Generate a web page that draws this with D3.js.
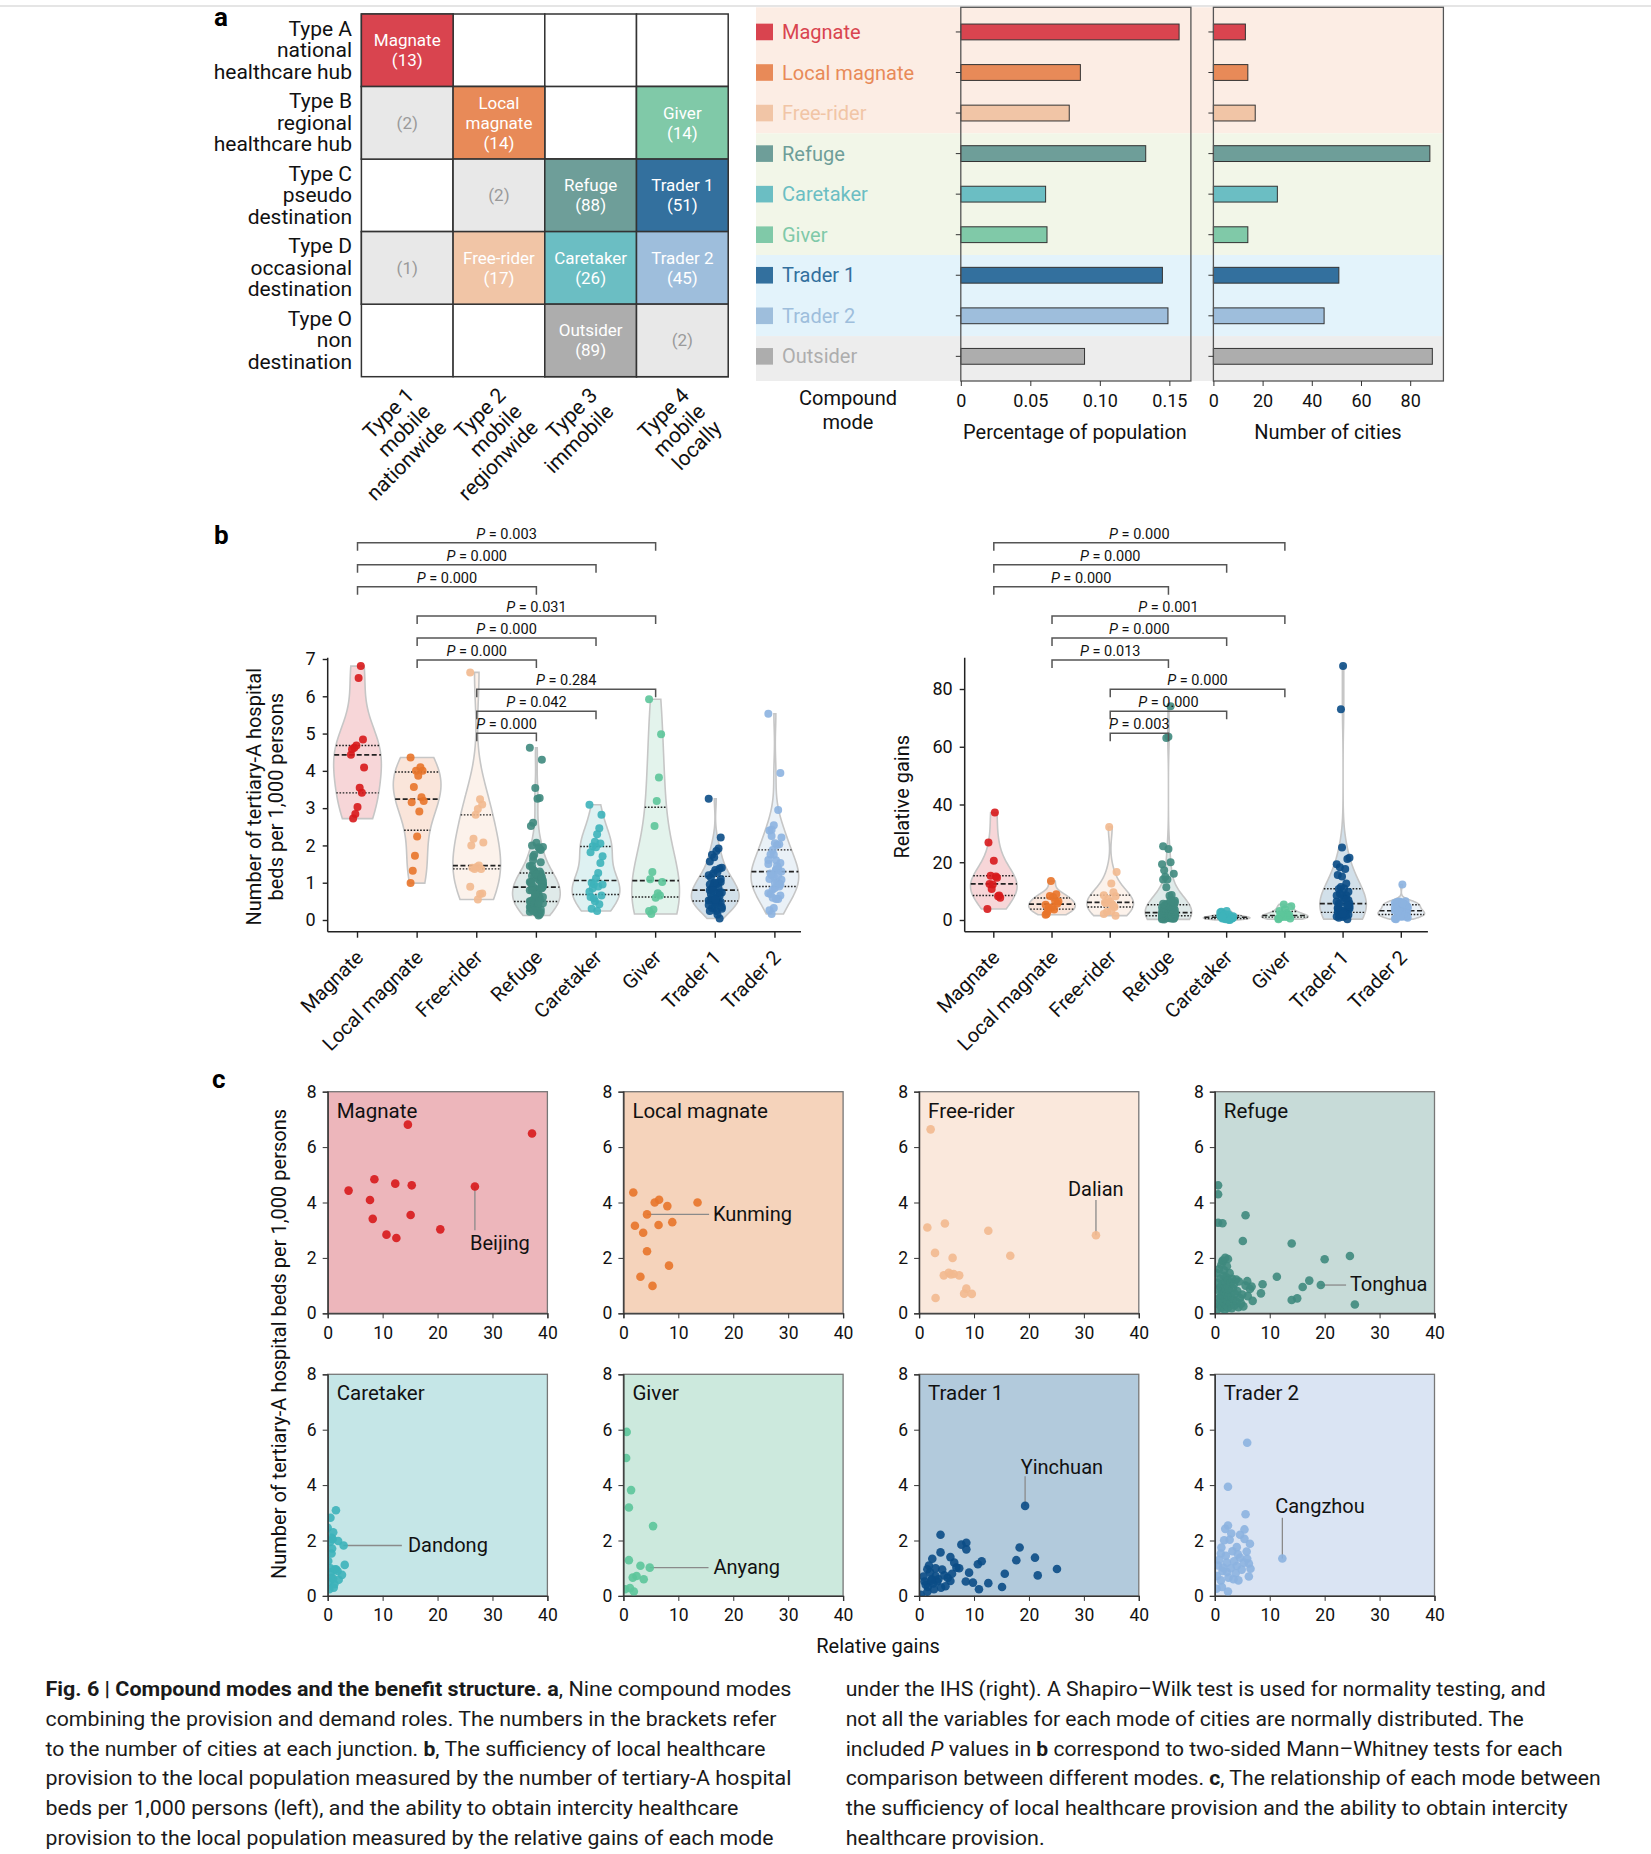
<!DOCTYPE html>
<html>
<head>
<meta charset="utf-8">
<script src="https://cdn.jsdelivr.net/npm/d3@7"></script>
<style>
body{margin:0;background:#fff;}
text{font-family:Roboto, sans-serif;}
</style>
</head>
<body>
<svg id="fig" width="1651" height="1854"></svg>
<script>
// ---- data ----
const modes = ["Magnate","Local magnate","Free-rider","Refuge","Caretaker","Giver","Trader 1","Trader 2","Outsider"];
const modeColors = ["#d9444f","#e88a58","#f1c5a6","#6e9e99","#6bbec3","#80c9a8","#33709e","#9ebedc","#adadad"];
const dotColors = ["#d7191c","#e8742a","#f2b98f","#3f8a7e","#3db3ba","#5cc59a","#0b4c86","#8cb2e0"];
const panelBg = ["#edb6bb","#f5d3bb","#fae8dc","#c7dbd8","#c5e6e7","#cce9dd","#b2cadc","#dae4f3"];

const shareOfPopulation = [0.157,0.086,0.078,0.133,0.061,0.062,0.145,0.149,0.089];
const numberOfCities = [13,14,17,88,26,14,51,45,89];

const demandTypes = [["Type A","national","healthcare hub"],["Type B","regional","healthcare hub"],["Type C","pseudo","destination"],["Type D","occasional","destination"],["Type O","non","destination"]];
const provisionTypes = [["Type 1","mobile","nationwide"],["Type 2","mobile","regionwide"],["Type 3","immobile"],["Type 4","mobile","locally"]];
const junctionRow = [0,1,1,1,2,2,2,3,3,3,3,4,4];
const junctionCol = [0,0,1,3,1,2,3,0,1,2,3,2,3];
const junctionMode = ["Magnate",null,"Local magnate","Giver",null,"Refuge","Trader 1",null,"Free-rider","Caretaker","Trader 2","Outsider",null];
const junctionCount = [13,2,14,14,2,88,51,1,17,26,45,89,2];

// [relative gains, tertiary-A beds per 1,000 persons] per city
const magnatePts = [[3.8,4.43],[8.5,4.84],[14.6,6.81],[37.2,6.49],[12.3,4.68],[15.3,4.62],[26.8,4.58],[7.7,4.09],[8.2,3.41],[15.1,3.55],[20.5,3.03],[10.7,2.84],[12.5,2.72]];
const localMagnatePts = [[1.8,4.36],[5.7,4.0],[6.5,4.1],[8.0,3.87],[13.5,4.0],[4.3,3.57],[2.1,3.16],[6.4,3.19],[8.9,3.29],[3.6,2.91],[4.3,2.24],[8.3,1.72],[3.1,1.32],[5.3,0.99]];
const freeRiderPts = [[2.1,6.64],[1.5,3.10],[4.7,3.24],[12.6,2.98],[32.2,2.82],[2.9,2.18],[6.1,2.0],[16.6,2.08],[4.5,1.37],[5.4,1.46],[6.3,1.42],[7.3,1.37],[5.8,1.40],[8.6,0.89],[8.2,0.71],[9.6,0.70],[3.0,0.55]];
const refugePts = [[0.6,4.62],[0.6,4.30],[0.6,3.27],[1.4,3.25],[5.6,3.54],[5.1,2.61],[14.0,2.52],[2.4,1.96],[1.5,1.88],[20.0,1.95],[24.6,2.07],[11.3,1.32],[17.2,1.18],[19.3,1.02],[16.0,0.95],[8.7,1.05],[8.4,0.72],[14.0,0.48],[15.0,0.54],[25.5,0.32],[6.7,0.97],[5.9,1.16],[74,0.6],[63.5,0.8],[63,0.4],
  [0.2,0.35],[0.3,1.45],[0.4,0.85],[0.5,0.15],[0.6,1.1],[0.7,0.55],[0.8,1.6],[0.9,0.3],[1.0,0.95],[1.0,1.25],[1.1,0.6],[1.2,0.2],[1.2,1.75],[1.3,0.45],[1.3,0.8],[1.4,1.05],[1.4,1.9],[1.45,0.25],[1.5,0.65],[1.6,1.35],[1.6,0.4],[1.7,0.9],[1.7,1.55],[1.8,0.12],[1.8,0.75],[1.9,1.15],[1.9,2.0],[2.0,0.5],[2.0,0.88],[2.1,1.3],[2.1,0.3],[2.2,0.7],[2.2,1.7],[2.3,1.0],[2.3,0.45],[2.4,0.2],[2.4,1.2],[2.45,0.62],[2.6,0.85],[2.7,1.45],[2.8,0.35],[2.9,1.1],[3.0,0.6],[3.1,0.18],[3.2,1.25],[3.3,0.9],[3.4,0.5],[3.5,1.05],[3.6,0.28],[3.7,0.7],[3.9,1.22],[4.0,0.42],[4.1,0.8],[4.3,0.22],[4.4,1.15],[4.6,0.55],[4.8,0.35],[5.0,0.68],[5.2,0.25],[5.6,1.0],[6.0,0.62],[6.4,0.88],[6.9,0.45]];
const caretakerPts = [[1.5,3.09],[0.5,2.82],[0,2.46],[1.0,2.30],[0.7,2.1],[1.9,1.98],[2.9,1.82],[0.8,1.71],[0.7,1.53],[0.1,1.26],[3.1,1.12],[1.5,0.96],[0.5,1.0],[2.6,0.76],[0.7,0.66],[1.2,0.42],[0.3,0.24],[0.3,0.5],[0.6,0.85],[1.0,0.62],[1.3,0.95],[0.9,2.05],[1.8,0.9],[0.4,1.95],[2.0,0.58],[1.1,0.3]];
const giverPts = [[0.6,5.92],[0.5,4.98],[1.4,3.82],[1.0,3.19],[5.4,2.52],[1.0,1.29],[3.1,1.09],[4.8,1.02],[1.7,0.66],[2.4,0.72],[3.7,0.60],[1.2,0.28],[1.9,0.16],[0.3,0.24]];
const trader1Pts = [[19.3,3.25],[3.9,2.21],[8.6,1.92],[7.7,1.85],[8.6,1.68],[18.3,1.75],[3.9,1.57],[5.7,1.40],[21.1,1.38],[17.7,1.29],[2.4,1.34],[11.4,1.25],[10.7,1.14],[6.4,1.20],[6.8,1.02],[7.3,1.0],[1.5,0.96],[25.1,0.97],[9.1,0.84],[15.6,0.80],[21.6,0.74],[4.6,0.74],[3.0,0.72],[1.0,0.52],[3.3,0.52],[5.7,0.54],[8.5,0.52],[9.8,0.48],[12.6,0.46],[10.9,0.24],[15.1,0.32],[1.6,0.32],[2.7,0.24],[4.0,0.30],[0.3,0.04],[2.3,0.6],[88,0.5],[73,0.9],
  [0.8,0.7],[1.2,0.4],[1.8,1.1],[2.0,0.85],[2.6,0.45],[3.0,1.0],[3.5,0.6],[4.2,0.95],[4.8,0.35],[5.2,0.65],[1.5,0.15],[2.2,0.55],[6.0,0.8]];
const trader2Pts = [[5.9,5.53],[2.4,3.94],[5.6,2.95],[12.3,1.35],[2.4,2.54],[1.9,2.42],[5.4,2.40],[4.6,2.21],[2.7,2.03],[1.7,2.01],[5.4,2.06],[6.4,1.88],[4.0,1.76],[3.2,1.61],[1.1,1.53],[4.6,1.38],[5.9,1.34],[6.2,1.17],[2.2,1.2],[0.6,1.10],[4.0,1.08],[6.5,0.98],[1.5,1.02],[2.2,0.86],[3.8,0.82],[6.2,0.70],[0.4,0.72],[2.5,0.66],[4.3,0.56],[1.1,0.56],[1.3,0.32],[2.4,0.16],[0.3,0.26],
  [0.8,1.3],[1.4,0.9],[2.0,1.45],[2.9,1.0],[3.4,0.6],[3.5,1.25],[4.2,1.5],[4.9,0.95],[5.3,1.2],[5.8,1.6],[1.2,1.75],[3.0,2.25]];
const modePoints = [magnatePts,localMagnatePts,freeRiderPts,refugePts,caretakerPts,giverPts,trader1Pts,trader2Pts];

const comparisons = [["Magnate","Giver"],["Magnate","Caretaker"],["Magnate","Refuge"],["Local magnate","Giver"],["Local magnate","Caretaker"],["Local magnate","Refuge"],["Free-rider","Giver"],["Free-rider","Caretaker"],["Free-rider","Refuge"]];
const pBeds = ["0.003","0.000","0.000","0.031","0.000","0.000","0.284","0.042","0.000"];
const pGains = ["0.000","0.000","0.000","0.001","0.000","0.013","0.000","0.000","0.003"];

// labelled cities in c: mode index, city, point
const cityMode = [0,1,2,3,4,5,6,7];
const cityName = ["Beijing","Kunming","Dalian","Tonghua","Dandong","Anyang","Yinchuan","Cangzhou"];
const cityPoint = [[26.8,4.58],[4.3,3.57],[32.2,2.82],[19.3,1.02],[2.9,1.82],[4.8,1.02],[19.3,3.25],[12.3,1.35]];

// ---- layout helpers (not data) ----
const leaderEnd = [[26.8,3.0],[15.6,3.57],[32.2,4.09],[23.9,1.02],[13.5,1.82],[15.5,1.02],[19.3,4.32],[12.3,2.82]];
const labelAt = [[25.9,2.55],[16.3,3.6],[27.1,4.5],[24.6,1.05],[14.6,1.85],[16.4,1.05],[18.5,4.65],[11.0,3.26]];

const svg = d3.select("#fig");
const sansB = "'Liberation Sans', Arial, sans-serif";

svg.append("line").attr("x1",0).attr("x2",1651).attr("y1",6).attr("y2",6).attr("stroke","#dcdcdc").attr("stroke-width",1.5);

function panelLetter(t, x, y){
  svg.append("text").attr("x",x).attr("y",y).attr("font-family",sansB).attr("font-weight","bold")
    .attr("font-size",26).attr("fill","#000").text(t);
}
panelLetter("a",214,26);
panelLetter("b",214,544);
panelLetter("c",212,1088);

// ================= panel a : junction matrix =================
const colX = d3.scaleBand().domain(d3.range(4)).range([361.4,728.2]);
const rowY = d3.scaleBand().domain(d3.range(5)).range([14,376.7]);
const gM = svg.append("g");

gM.selectAll(".blank").data(d3.cross(d3.range(5),d3.range(4))).join("rect")
  .attr("x",d=>colX(d[1])).attr("y",d=>rowY(d[0]))
  .attr("width",colX.bandwidth()).attr("height",rowY.bandwidth())
  .attr("fill","#fff").attr("stroke","#333").attr("stroke-width",1.5);

const junctions = junctionRow.map((r,i)=>({r, c:junctionCol[i], mode:junctionMode[i], n:junctionCount[i]}));
gM.selectAll(".cell").data(junctions).join("rect")
  .attr("x",d=>colX(d.c)).attr("y",d=>rowY(d.r))
  .attr("width",colX.bandwidth()).attr("height",rowY.bandwidth())
  .attr("fill",d=>d.mode ? modeColors[modes.indexOf(d.mode)] : "#e8e8e8")
  .attr("stroke","#333").attr("stroke-width",1.5);

junctions.forEach(d=>{
  const lines = (d.mode ? (d.mode==="Local magnate" ? ["Local","magnate"] : [d.mode]) : []).concat([`(${d.n})`]);
  const cx = colX(d.c)+colX.bandwidth()/2, cy = rowY(d.r)+rowY.bandwidth()/2;
  lines.forEach((l,j)=>{
    gM.append("text").attr("x",cx).attr("y",cy+(j-(lines.length-1)/2)*20)
      .attr("text-anchor","middle").attr("dominant-baseline","central")
      .attr("font-size",17).attr("fill",d.mode ? "#fff" : "#9a9a9a").text(l);
  });
});

demandTypes.forEach((lines,i)=>{
  const cy = rowY(i)+rowY.bandwidth()/2;
  lines.forEach((l,j)=>{
    gM.append("text").attr("x",352).attr("y",cy+(j-(lines.length-1)/2)*21.5)
      .attr("text-anchor","end").attr("dominant-baseline","central")
      .attr("font-size",21).attr("fill","#111").text(l);
  });
});

provisionTypes.forEach((lines,i)=>{
  const t = gM.append("text")
    .attr("transform",`translate(${colX(i)+colX.bandwidth()/2+8},${376.7+20}) rotate(-45)`)
    .attr("text-anchor","end").attr("font-size",21).attr("fill","#111");
  lines.forEach((l,j)=>t.append("tspan").attr("x",0).attr("dy",j?23:0).text(l));
});

// ================= panel a : share and count bars =================
const barY = d3.scaleBand().domain(modes).range([7.3,381]).paddingInner(0.61).paddingOuter(0.413);
const bc = m => barY(m)+barY.bandwidth()/2;
const edge = i => i===0 ? 7.3 : i===modes.length ? 381 : (bc(modes[i-1])+bc(modes[i]))/2;
const bandGroups = [[0,2,"#fcede4"],[3,5,"#f2f6e8"],[6,7,"#e3f3fb"],[8,8,"#ededed"]];
const gB = svg.append("g");
bandGroups.forEach(([a,b,col])=>{
  gB.append("rect").attr("x",756).attr("y",edge(a)).attr("width",1442.5-756)
    .attr("height",edge(b+1)-edge(a)).attr("fill",col);
});

modes.forEach((m,i)=>{
  gB.append("rect").attr("x",756).attr("y",bc(m)-8.3).attr("width",17).attr("height",16.6).attr("fill",modeColors[i]);
  gB.append("text").attr("x",782).attr("y",bc(m)).attr("dominant-baseline","central")
    .attr("font-size",20).attr("fill",modeColors[i]).text(m);
});

const xShare = d3.scaleLinear().domain([0,0.1655]).range([960.8,1190.9]);
const xCount = d3.scaleLinear().domain([0,93.5]).range([1213.4,1443.4]);

function barChart(x, values, ticks, fmt){
  const g = gB.append("g");
  g.selectAll("rect.bar").data(modes).join("rect").attr("class","bar")
    .attr("x",x(0)).attr("y",m=>barY(m))
    .attr("width",(m,i)=>x(values[i])-x(0)).attr("height",barY.bandwidth())
    .attr("fill",(m,i)=>modeColors[i]).attr("stroke","#333").attr("stroke-width",1);
  g.append("rect").attr("x",x.range()[0]).attr("y",7.3).attr("width",x.range()[1]-x.range()[0])
    .attr("height",381-7.3).attr("fill","none").attr("stroke","#555").attr("stroke-width",1.3);
  g.selectAll("line.yt").data(modes).join("line").attr("class","yt")
    .attr("x1",x.range()[0]-5).attr("x2",x.range()[0]).attr("y1",bc).attr("y2",bc)
    .attr("stroke","#333");
  const ax = g.append("g").attr("transform","translate(0,381)")
    .call(d3.axisBottom(x).tickValues(ticks).tickFormat(fmt).tickSize(5).tickPadding(8));
  ax.select(".domain").remove();
  ax.selectAll("text").attr("font-size",18).attr("font-family","Roboto, sans-serif").attr("fill","#111");
  ax.selectAll("line").attr("stroke","#333");
}
barChart(xShare, shareOfPopulation, [0,0.05,0.10,0.15], d=>d===0?"0":d3.format(".2f")(d));
barChart(xCount, numberOfCities, [0,20,40,60,80], d3.format("d"));

[["Compound",848,398],["mode",848,422],["Percentage of population",1075,432],["Number of cities",1328,432]]
  .forEach(([t,x,y])=>gB.append("text").attr("x",x).attr("y",y).attr("text-anchor","middle")
    .attr("dominant-baseline","central").attr("font-size",20).attr("fill","#111").text(t));

// ================= panel b : violins =================
function kde(vals){
  const n = vals.length, sd = d3.deviation(vals), bw = sd*Math.pow(n,-0.2);
  const lo = d3.min(vals), hi = d3.max(vals);
  const f = y => d3.sum(vals, v=>Math.exp(-0.5*((y-v)/bw)**2));
  const grid = d3.range(101).map(i=>lo+(hi-lo)*i/100);
  const mx = d3.max(grid, f);
  return {grid, at: y=>f(y)/mx};
}
const jit = i => (((i*37)%13)-6)/6;
const violinModes = modes.slice(0,8);

function violinPanel(o){
  const g = svg.append("g").attr("font-family",sansB);
  const x = d3.scaleBand().domain(violinModes).range(o.xr);
  const step = x.bandwidth(), cx = m => x(m)+step/2, half = step*0.4;
  const y = o.y;

  violinModes.forEach((m,i)=>{
    const vals = modePoints[i].map(p=>p[o.k]);
    const k = kde(vals);
    const area = d3.area().curve(d3.curveBasis)
      .y(v=>y(v)).x0(v=>cx(m)-k.at(v)*half).x1(v=>cx(m)+k.at(v)*half);
    g.append("path").attr("d",area(k.grid))
      .attr("fill",d3.interpolateRgb("#fff",modeColors[i])(0.22))
      .attr("stroke","#c6c6c6").attr("stroke-width",1.6);
    const sorted = vals.slice().sort(d3.ascending);
    [0.25,0.5,0.75].forEach(q=>{
      const v = d3.quantile(sorted,q), w = k.at(v)*half;
      g.append("line").attr("x1",cx(m)-w).attr("x2",cx(m)+w).attr("y1",y(v)).attr("y2",y(v))
        .attr("stroke","#222").attr("stroke-width",q===0.5?1.7:1.4)
        .attr("stroke-dasharray",q===0.5?"5,2.5":"1.6,1.6");
    });
    g.selectAll(null).data(modePoints[i]).join("circle")
      .attr("cx",(p,j)=>cx(m)+jit(j)*step*0.11).attr("cy",p=>y(p[o.k])).attr("r",4)
      .attr("fill",dotColors[i]).attr("fill-opacity",0.9);
  });

  // axes
  const yAx = g.append("g").attr("transform",`translate(${o.xr[0]},0)`)
    .call(d3.axisLeft(y).tickValues(o.ticks).tickFormat(d3.format("d")).tickSize(5).tickPadding(7));
  yAx.select(".domain").remove();
  yAx.selectAll("text").attr("font-size",18).attr("font-family",sansB).attr("fill","#111");
  g.append("line").attr("x1",o.xr[0]).attr("x2",o.xr[0]).attr("y1",657.7).attr("y2",931.7).attr("stroke","#222").attr("stroke-width",1.5);
  g.append("line").attr("x1",o.xr[0]).attr("x2",o.xEnd).attr("y1",931.7).attr("y2",931.7).attr("stroke","#222").attr("stroke-width",1.5);
  const xAx = g.append("g").attr("transform","translate(0,931.7)")
    .call(d3.axisBottom(x).tickSize(6));
  xAx.select(".domain").remove();
  xAx.selectAll("line").attr("stroke","#222").attr("stroke-width",1.4);
  xAx.selectAll("text").attr("x",0).attr("y",0).attr("dy",0)
    .attr("transform","translate(7,27) rotate(-45)").style("text-anchor","end")
    .attr("font-size",20).attr("font-family",sansB).attr("fill","#111");
  yAx.selectAll("line").attr("stroke","#222").attr("stroke-width",1.4);

  // title
  const t = g.append("text").attr("transform","rotate(-90)").attr("text-anchor","middle")
    .attr("font-size",20).attr("fill","#111");
  o.title.forEach((l,j)=>t.append("tspan").attr("x",-796.7).attr("y",o.titleX[j]).text(l));

  // comparison brackets
  comparisons.forEach(([a,b],kk)=>{
    const by = 542.7 + Math.floor(kk/3)*73.3 + (kk%3)*22;
    g.append("path").attr("d",`M${cx(a)},${by+8}V${by}H${cx(b)}V${by+8}`)
      .attr("fill","none").attr("stroke","#555").attr("stroke-width",1.5);
    const lt = g.append("text").attr("x",(cx(a)+cx(b))/2).attr("y",by-4)
      .attr("text-anchor","middle").attr("font-size",14.5).attr("font-family","Roboto, sans-serif").attr("fill","#111");
    lt.append("tspan").attr("font-style","italic").text("P");
    lt.append("tspan").text(" = "+o.p[kk]);
  });
}

violinPanel({k:1, xr:[327.7,804.7], xEnd:801, y:d3.scaleLinear().domain([0,7]).range([920,659]),
  ticks:d3.range(8), title:["Number of tertiary-A hospital","beds per 1,000 persons"], titleX:[261,283], p:pBeds});
violinPanel({k:0, xr:[964.7,1430.4], xEnd:1427.9, y:d3.scaleLinear().domain([0,80]).range([920,689]),
  ticks:[0,20,40,60,80], title:["Relative gains"], titleX:[909], p:pGains});

// ================= panel c : scatter grid =================
const cW = 219.7, cH = 221.6;
violinModes.forEach((m,i)=>{
  const x0 = 327.7 + (i%4)*295.7, y0 = 1091.7 + Math.floor(i/4)*282.6;
  const x = d3.scaleLinear().domain([0,40]).range([x0,x0+cW]);
  const y = d3.scaleLinear().domain([0,8]).range([y0+cH,y0]);
  const g = svg.append("g");
  g.append("rect").attr("x",x0).attr("y",y0).attr("width",cW).attr("height",cH)
    .attr("fill",panelBg[i]).attr("stroke","#777").attr("stroke-width",1.3);
  g.append("clipPath").attr("id","clip"+i).append("rect").attr("x",x0).attr("y",y0).attr("width",cW).attr("height",cH);
  const ci = cityMode.indexOf(i);
  if(ci>=0){
    g.append("line").attr("x1",x(cityPoint[ci][0])).attr("y1",y(cityPoint[ci][1]))
      .attr("x2",x(leaderEnd[ci][0])).attr("y2",y(leaderEnd[ci][1]))
      .attr("stroke","#8a8a8a").attr("stroke-width",1.3);
  }
  g.append("g").attr("clip-path",`url(#clip${i})`).selectAll("circle").data(modePoints[i]).join("circle")
    .attr("cx",p=>x(p[0])).attr("cy",p=>y(p[1])).attr("r",4.3)
    .attr("fill",dotColors[i]).attr("fill-opacity",0.9);
  if(ci>=0){
    g.append("text").attr("x",x(labelAt[ci][0])).attr("y",y(labelAt[ci][1]))
      .attr("dominant-baseline","central").attr("font-size",20).attr("fill","#111").text(cityName[ci]);
  }
  g.append("text").attr("x",x0+9).attr("y",y0+19).attr("dominant-baseline","central")
    .attr("font-size",20.5).attr("fill","#111").text(m);
  const ax = g.append("g").attr("transform",`translate(${x0},0)`)
    .call(d3.axisLeft(y).tickValues([0,2,4,6,8]).tickSize(5).tickPadding(6));
  const bx = g.append("g").attr("transform",`translate(0,${y0+cH})`)
    .call(d3.axisBottom(x).tickValues([0,10,20,30,40]).tickSize(5).tickPadding(8));
  [ax,bx].forEach(a=>{
    a.select(".domain").attr("stroke","#333").attr("stroke-width",1.3);
    a.selectAll("line").attr("stroke","#333");
    a.selectAll("text").attr("font-size",17.5).attr("font-family","Roboto, sans-serif").attr("fill","#111");
  });
});
svg.append("text").attr("transform","translate(286,1344) rotate(-90)").attr("text-anchor","middle")
  .attr("font-family",sansB).attr("font-size",20).attr("fill","#111")
  .text("Number of tertiary-A hospital beds per 1,000 persons");
svg.append("text").attr("x",878).attr("y",1646).attr("text-anchor","middle").attr("dominant-baseline","central")
  .attr("font-size",20).attr("fill","#111").text("Relative gains");

// ================= caption =================
const captionLeft = [
  [["Fig. 6 | Compound modes and the benefit structure. a","b"],[", Nine compound modes",""]],
  [["combining the provision and demand roles. The numbers in the brackets refer",""]],
  [["to the number of cities at each junction. ",""],["b","b"],[", The sufficiency of local healthcare",""]],
  [["provision to the local population measured by the number of tertiary-A hospital",""]],
  [["beds per 1,000 persons (left), and the ability to obtain intercity healthcare",""]],
  [["provision to the local population measured by the relative gains of each mode",""]]
];
const captionLeftWidth = [746,731,720,746,693,728];
const captionRight = [
  [["under the IHS (right). A Shapiro\u2013Wilk test is used for normality testing, and",""]],
  [["not all the variables for each mode of cities are normally distributed. The",""]],
  [["included ",""],["P","i"],[" values in ",""],["b","b"],[" correspond to two-sided Mann\u2013Whitney tests for each",""]],
  [["comparison between different modes. ",""],["c","b"],[", The relationship of each mode between",""]],
  [["the sufficiency of local healthcare provision and the ability to obtain intercity",""]],
  [["healthcare provision.",""]]
];
const captionRightWidth = [700,678,717,755,722,199];
function caption(lines, widths, x){
  lines.forEach((segs,i)=>{
    const t = svg.append("text").attr("x",x).attr("y",1696+i*29.8)
      .attr("font-size",21).attr("fill","#1a1a1a")
      .attr("textLength",widths[i]).attr("lengthAdjust","spacingAndGlyphs");
    segs.forEach(([s,st])=>t.append("tspan")
      .attr("font-weight",st==="b"?"bold":null).attr("font-style",st==="i"?"italic":null).text(s));
  });
}
caption(captionLeft, captionLeftWidth, 45.5);
caption(captionRight, captionRightWidth, 845.7);
</script>
</body>
</html>
